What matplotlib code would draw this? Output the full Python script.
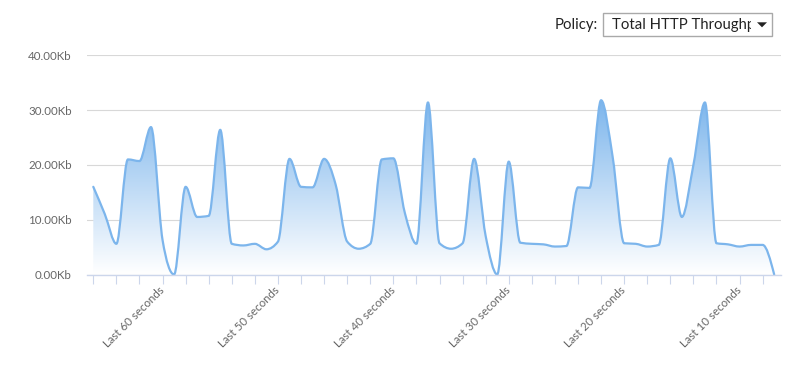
import numpy as np
import matplotlib
matplotlib.use('Agg')
import matplotlib.pyplot as plt
from matplotlib.path import Path
from matplotlib.patches import PathPatch, Rectangle, Polygon
from matplotlib.colors import LinearSegmentedColormap
from matplotlib.transforms import ScaledTranslation

plt.rcParams['font.family'] = ['Lato', 'DejaVu Sans']

# ---- data (Kb per sample) ----
values = [16.0, 11.0, 5.6, 21.0, 20.7, 26.9, 6.3, 0.0, 16.0, 10.5,
          10.7, 26.4, 5.6, 5.3, 5.6, 4.6, 6.0, 21.1, 16.0, 15.9,
          21.1, 16.4, 6.0, 4.7, 5.6, 21.0, 21.2, 11.2, 5.6, 31.4,
          5.7, 4.7, 5.7, 21.1, 7.0, 0.0, 20.6, 5.8, 5.6, 5.5,
          5.1, 5.2, 15.9, 15.8, 31.8, 21.5, 5.7, 5.6, 5.1, 5.4,
          21.2, 10.5, 20.0, 31.4, 5.7, 5.5, 5.1, 5.4, 5.4, 0.0]
tick_labels = ['', '', '', 'Last 60 seconds', '', '', '', '', 'Last 50 seconds', '',
               '', '', '', 'Last 40 seconds', '', '', '', '', 'Last 30 seconds', '',
               '', '', '', 'Last 20 seconds', '', '', '', '', 'Last 10 seconds', '']
y_ticks = [0, 10, 20, 30, 40]
policy_label = 'Policy:'
policy_value = 'Total HTTP Throughput'

W, H = 806, 365
fig = plt.figure(figsize=(W / 100, H / 100), dpi=100)

def fx(px):
    return px / W

def fy(py):
    return 1 - py / H

ax_l, ax_r, ax_t, ax_b = 87, 781, 55.3, 274.5
ax = fig.add_axes([fx(ax_l), fy(ax_b), (ax_r - ax_l) / W, (ax_b - ax_t) / H])

x = np.arange(len(values), dtype=float)
x_left, x_right = -0.546, 59.59


def monotone_path(xs, ys):
    """Monotone cubic (Fritsch-Carlson, d3 curveMonotoneX style) as Bezier path."""
    xs = np.asarray(xs, float)
    ys = np.asarray(ys, float)
    n = len(xs)
    t = np.zeros(n)
    for i in range(1, n - 1):
        h0 = xs[i] - xs[i - 1]
        h1 = xs[i + 1] - xs[i]
        s0 = (ys[i] - ys[i - 1]) / h0
        s1 = (ys[i + 1] - ys[i]) / h1
        p = (s0 * h1 + s1 * h0) / (h0 + h1)
        t[i] = (np.sign(s0) + np.sign(s1)) * min(abs(s0), abs(s1), 0.5 * abs(p))
    h = xs[1] - xs[0]
    t[0] = (3 * (ys[1] - ys[0]) / h - t[1]) / 2
    h = xs[-1] - xs[-2]
    t[-1] = (3 * (ys[-1] - ys[-2]) / h - t[-2]) / 2
    verts = [(xs[0], ys[0])]
    codes = [Path.MOVETO]
    for i in range(1, n):
        dx = (xs[i] - xs[i - 1]) / 3
        verts += [(xs[i - 1] + dx, ys[i - 1] + dx * t[i - 1]),
                  (xs[i] - dx, ys[i] - dx * t[i]),
                  (xs[i], ys[i])]
        codes += [Path.CURVE4] * 3
    return np.array(verts), codes

verts, codes = monotone_path(x, values)

# gradient fill under the curve
fill_verts = np.vstack([verts, [[x[-1], 0], [x[0], 0], [x[0], values[0]]]])
fill_codes = codes + [Path.LINETO, Path.LINETO, Path.CLOSEPOLY]
fill_patch = PathPatch(Path(fill_verts, fill_codes), facecolor='none', edgecolor='none')
ax.add_patch(fill_patch)
ymax = max(values)
cmap = LinearSegmentedColormap.from_list('g', ['#ffffff', '#7cb5ec'])
grad = np.linspace(0, 1, 256).reshape(-1, 1)
im = ax.imshow(grad, cmap=cmap, origin='lower', aspect='auto',
               extent=[x[0], x[-1], 0, ymax], zorder=2, vmin=0, vmax=1)
im.set_clip_path(fill_patch)
ax.set_xlim(x_left, x_right)
ax.set_ylim(0, 40)

line_patch = PathPatch(Path(verts, codes), facecolor='none', edgecolor='#7cb5ec',
                       lw=1.6, zorder=3, capstyle='round', joinstyle='round')
ax.add_patch(line_patch)

# axes styling
for s in ['left', 'right', 'top']:
    ax.spines[s].set_visible(False)
ax.spines['bottom'].set_color('#ccd6eb')
ax.spines['bottom'].set_linewidth(1)
ax.spines['bottom'].set_zorder(4)

ax.set_yticks(y_ticks)
ax.set_yticklabels([f'{v:.2f}Kb' for v in y_ticks])
ax.yaxis.grid(True, color='#d8d8d8', lw=0.8)
ax.set_axisbelow(True)
ax.tick_params(axis='y', length=0, pad=11, labelsize=8.3, labelcolor='#666666')

ax.set_xticks(x[::2])
ax.set_xticklabels(tick_labels, rotation=45, ha='right', va='top',
                   rotation_mode='anchor')
ax.tick_params(axis='x', length=6.5, width=0.8, color='#ccd6eb', pad=3,
               labelsize=8.3, labelcolor='#666666')
shift = ScaledTranslation(-0.04, 0.035, fig.dpi_scale_trans)
for lab in ax.get_xticklabels():
    lab.set_transform(lab.get_transform() + shift)

# policy selector
fig.text(fx(598.3), fy(28.5), policy_label, ha='right', va='baseline',
         fontsize=10.7, color='#222222')
box = Rectangle((fx(603.3), fy(35.7)), (772.3 - 603.3) / W, (35.7 - 13) / H,
                transform=fig.transFigure, facecolor='white', edgecolor='#a9a9a9',
                lw=1.0)
fig.patches.append(box)
clip = Rectangle((fx(604), fy(35)), (751 - 604) / W, (35 - 14) / H,
                 transform=fig.transFigure, facecolor='none', edgecolor='none')
fig.patches.append(clip)
t = fig.text(fx(612), fy(28.5), policy_value, ha='left', va='baseline',
             fontsize=10.7, color='#222222')
t.set_clip_path(clip)
tri = Polygon([[fx(757), fy(22.3)], [fx(767), fy(22.3)], [fx(762), fy(27.3)]],
              closed=True, transform=fig.transFigure, facecolor='#222222',
              edgecolor='none')
fig.patches.append(tri)

fig.savefig('out.png', dpi=100)
